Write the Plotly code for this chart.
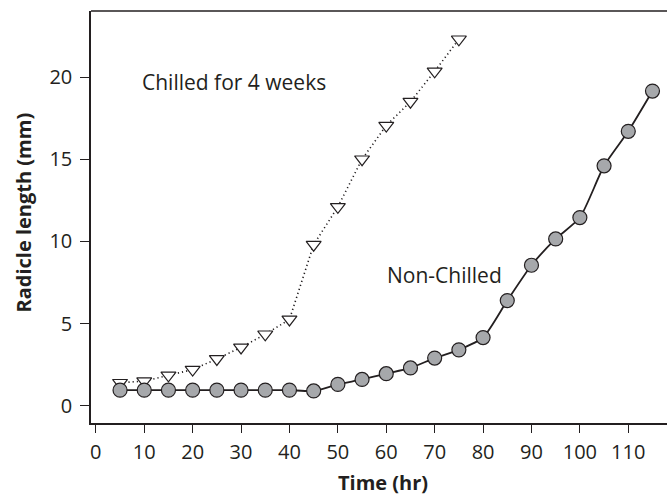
import plotly.graph_objects as go

time_chilled = [5, 10, 15, 20, 25, 30, 35, 40, 45, 50, 55, 60, 65, 70, 75]
len_chilled = [1.4, 1.5, 1.85, 2.2, 2.85, 3.55, 4.35, 5.25, 9.8, 12.1, 15.0, 17.05, 18.5, 20.35, 22.3]

time_non = [5, 10, 15, 20, 25, 30, 35, 40, 45, 50, 55, 60, 65, 70, 75, 80, 85, 90, 95, 100, 105, 110, 115]
len_non = [0.95, 0.95, 0.95, 0.95, 0.95, 0.95, 0.95, 0.95, 0.9, 1.3, 1.6, 1.95, 2.3, 2.9, 3.4, 4.15, 6.4, 8.55, 10.15, 11.45, 14.6, 16.7, 19.15]

x_ticks = [0, 10, 20, 30, 40, 50, 60, 70, 80, 90, 100, 110]
y_ticks = [0, 5, 10, 15, 20]

ink = "#231f20"
font_fam = "Open Sans, Lato, sans-serif"

fig = go.Figure()
fig.add_trace(go.Scatter(
    x=time_chilled, y=len_chilled, mode="lines+markers",
    line=dict(color=ink, width=1.6, dash="1.2px,3px"),
    marker=dict(symbol="triangle-down", size=13, color="white",
                line=dict(color=ink, width=1.2)),
    showlegend=False))
fig.add_trace(go.Scatter(
    x=time_non, y=len_non, mode="lines+markers",
    line=dict(color=ink, width=1.8, shape="spline", smoothing=0.6),
    marker=dict(symbol="circle", size=14, color="#a6a8ab",
                line=dict(color=ink, width=1.2)),
    showlegend=False))

fig.add_annotation(x=9.1, y=19.7, text="Chilled for 4 weeks", showarrow=False,
                   xanchor="left", yanchor="middle",
                   font=dict(family=font_fam, size=21, color=ink))
fig.add_annotation(x=59.8, y=7.95, text="Non-Chilled", showarrow=False,
                   xanchor="left", yanchor="middle",
                   font=dict(family=font_fam, size=21, color=ink))

# axis titles
fig.add_annotation(x=0.5, y=0, xref="paper", yref="paper", text="<b>Time (hr)</b>",
                   showarrow=False, xanchor="center", yanchor="middle",
                   xshift=4, yshift=-59,
                   font=dict(family=font_fam, size=20, color=ink))
fig.add_annotation(x=0, y=0.5, xref="paper", yref="paper", text="<b>Radicle length (mm)</b>",
                   showarrow=False, xanchor="center", yanchor="middle", textangle=-90,
                   xshift=-68.5, yshift=4,
                   font=dict(family=font_fam, size=20, color=ink))

fig.update_layout(
    width=667, height=497,
    margin=dict(l=91, r=0, t=11, b=74),
    plot_bgcolor="white", paper_bgcolor="white",
    font=dict(family=font_fam, size=20, color=ink),
    xaxis=dict(range=[-1.0, 118.0], tickvals=x_ticks, ticks="outside",
               ticklen=8, tickcolor=ink, tickwidth=1.2, showline=True, linecolor=ink,
               linewidth=1.5, mirror=False, showgrid=False, zeroline=False,
               ticklabelstandoff=2),
    yaxis=dict(range=[-1.05, 24.02], tickvals=y_ticks, ticks="outside",
               ticklen=9, tickcolor=ink, tickwidth=1.2, showline=True, linecolor=ink,
               linewidth=1.5, showgrid=False, zeroline=False,
               ticklabelstandoff=4),
)
fig.add_shape(type="line", xref="paper", yref="paper", x0=0, x1=1, y0=1, y1=1,
              line=dict(color=ink, width=1.5))

fig.write_html("out.html")
